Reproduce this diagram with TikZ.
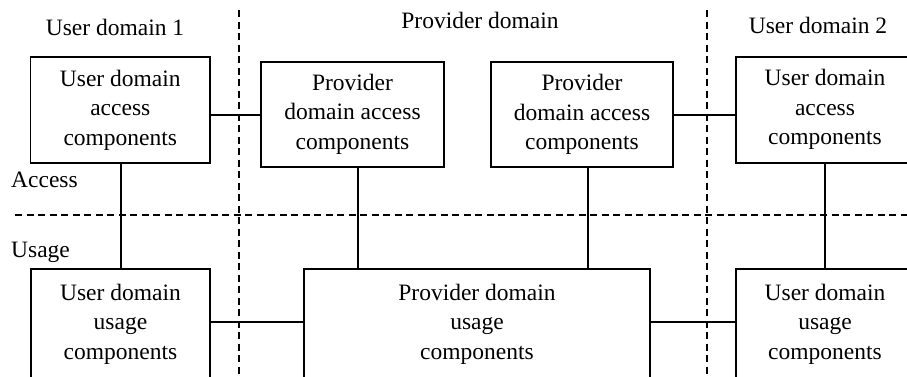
\documentclass[tikz,border=0pt]{standalone}
\usepackage{fontspec}
\setmainfont{Liberation Serif}
\begin{document}
\begin{tikzpicture}[x=1pt,y=-1pt,
  every node/.style={font=\fontsize{23.5}{29.5}\selectfont},
  comp/.style={draw,line width=1.6pt,align=center,inner sep=0pt},
  link/.style={line width=1.6pt},
  divider/.style={line width=1.6pt,dash pattern=on 7pt off 4.5pt},
  lbl/.style={inner sep=0pt}]
\useasboundingbox (0,0) rectangle (907,376);
\clip (0,0) rectangle (907,376);

% domain and layer dividers
\coordinate (d1top) at (238.7,10);
\coordinate (d1bot) at (238.7,380);
\coordinate (d2top) at (706.7,10);
\coordinate (d2bot) at (706.7,380);
\coordinate (hl) at (15,215);
\coordinate (hr) at (910,215);
\draw[divider] (d1top) -- (d1bot);
\draw[divider] (d2top) -- (d2bot);
\draw[divider] (hl) -- (hr);

% domain titles and layer labels
\node[lbl] (t1) at (115,27) {User domain 1};
\node[lbl] (t2) at (480,20) {Provider domain};
\node[lbl] (t3) at (818,25) {User domain 2};
\node[lbl,anchor=west] (acc) at (11,180) {Access};
\node[lbl,anchor=west] (use) at (11,252) {Usage};

% access components
\node[comp,minimum width=179.3pt,minimum height=106.3pt] (ua1) at (120.3,110) {User domain\\access\\components};
\node[comp,minimum width=183pt,minimum height=105pt] (pa1) at (352.5,114.2) {Provider\\domain access\\components};
\node[comp,minimum width=182pt,minimum height=105pt] (pa2) at (582,114.5) {Provider\\domain access\\components};
\node[comp,minimum width=178.6pt,minimum height=106pt] (ua2) at (825,109.7) {User domain\\access\\components};

% usage components
\node[comp,minimum width=179pt,minimum height=110pt] (uu1) at (120.5,324) {User domain\\usage\\components};
\node[comp,minimum width=346pt,minimum height=110pt] (pu) at (477,324) {Provider domain\\usage\\components};
\node[comp,minimum width=178pt,minimum height=110pt] (uu2) at (825,324) {User domain\\usage\\components};

% horizontal links
\coordinate (ya) at (0,115);
\coordinate (yu) at (0,321.7);
\draw[link] (ua1.east |- ya) -- (pa1.west |- ya);
\draw[link] (pa2.east |- ya) -- (ua2.west |- ya);
\draw[link] (uu1.east |- yu) -- (pu.west |- yu);
\draw[link] (pu.east |- yu) -- (uu2.west |- yu);

% vertical links between access and usage
\coordinate (x1) at (121,0);
\coordinate (x2) at (358,0);
\coordinate (x3) at (587.7,0);
\coordinate (x4) at (825,0);
\draw[link] (ua1.south -| x1) -- (uu1.north -| x1);
\draw[link] (pa1.south -| x2) -- (pu.north -| x2);
\draw[link] (pa2.south -| x3) -- (pu.north -| x3);
\draw[link] (ua2.south -| x4) -- (uu2.north -| x4);
\end{tikzpicture}
\end{document}
